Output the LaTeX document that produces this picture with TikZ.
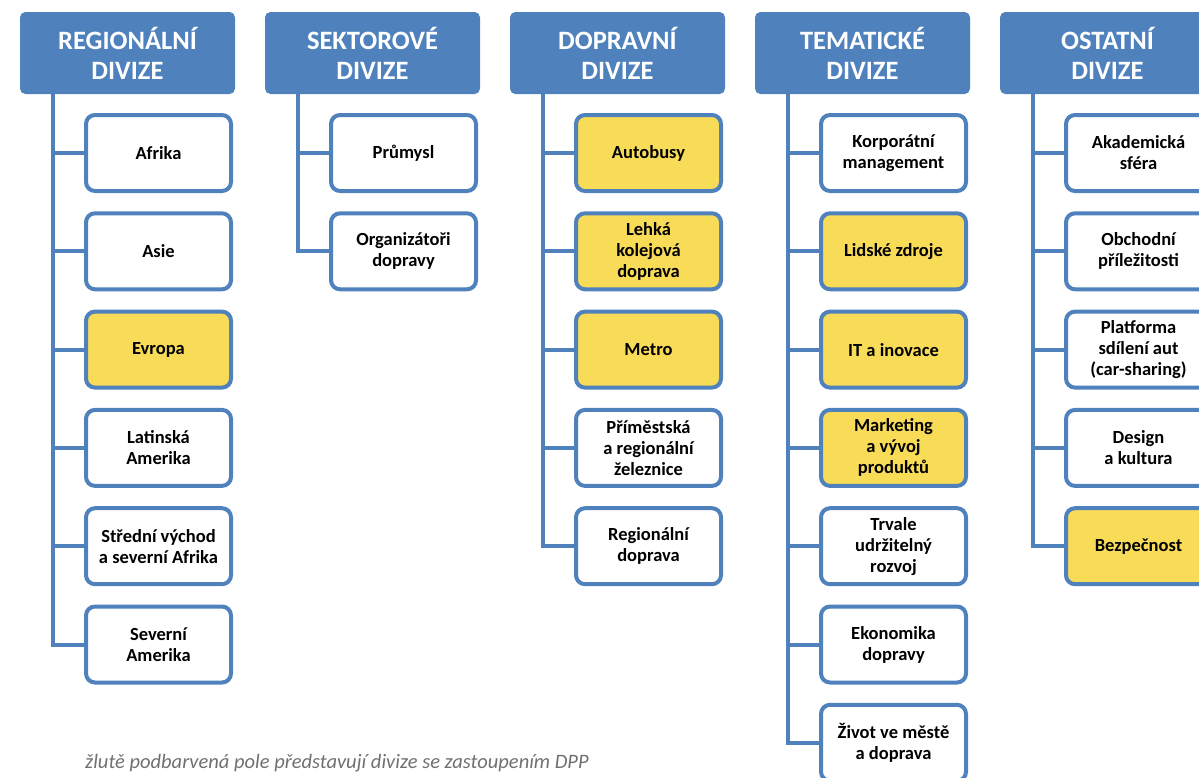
\documentclass[tikz,border=0pt]{standalone}
\usepackage{fontspec}
\setmainfont{Carlito}
\definecolor{hblue}{HTML}{4F81BD}
\definecolor{hyel}{HTML}{F8DC58}
\definecolor{notegray}{HTML}{707070}
\tikzset{
  hdr/.style={rectangle, rounded corners=5pt, fill=hblue, draw=hblue, line width=1pt,
    minimum width=214pt, minimum height=81pt, align=center, text=white,
    font=\bfseries\fontsize{26.5}{30}\selectfont},
  itembox/.style={rectangle, rounded corners=9pt, fill=white, draw=hblue, line width=4pt,
    minimum width=145pt, minimum height=76pt, align=center, text=black,
    font=\bfseries\fontsize{18.5}{21}\selectfont},
  hl/.style={fill=hyel},
  conn/.style={draw=hblue, line width=4pt}
}
\begin{document}
\begin{tikzpicture}[x=1pt,y=-1pt]
\useasboundingbox (0,0) rectangle (1199,777);
\clip (0,0) rectangle (1199,777);
% headers
\node[hdr] (h1) at (127.5,53) {REGIONÁLNÍ\\DIVIZE};
\node[hdr] (h2) at (372.5,53) {SEKTOROVÉ\\DIVIZE};
\node[hdr] (h3) at (617.5,53) {DOPRAVNÍ\\DIVIZE};
\node[hdr] (h4) at (862.5,53) {TEMATICKÉ\\DIVIZE};
\node[hdr] (h5) at (1107.5,53) {OSTATNÍ\\DIVIZE};
% trunk coordinates
\coordinate (t1) at (53,94);
\coordinate (t2) at (298,94);
\coordinate (t3) at (543,94);
\coordinate (t4) at (788,94);
\coordinate (t5) at (1033,94);
% column 1
\node[itembox] (a1) at (158.5,153) {Afrika};
\node[itembox] (a2) at (158.5,251.3) {Asie};
\node[itembox,hl] (a3) at (158.5,349.6) {Evropa};
\node[itembox] (a4) at (158.5,447.9) {Latinská\\Amerika};
\node[itembox] (a5) at (158.5,546.2) {Střední východ\\a severní Afrika};
\node[itembox] (a6) at (158.5,644.5) {Severní\\Amerika};
% column 2
\node[itembox] (b1) at (403.5,153) {Průmysl};
\node[itembox] (b2) at (403.5,251.3) {Organizátoři\\dopravy};
% column 3
\node[itembox,hl] (c1) at (648.5,153) {Autobusy};
\node[itembox,hl] (c2) at (648.5,251.3) {Lehká\\kolejová\\doprava};
\node[itembox,hl] (c3) at (648.5,349.6) {Metro};
\node[itembox] (c4) at (648.5,447.9) {Příměstská\\a regionální\\železnice};
\node[itembox] (c5) at (648.5,546.2) {Regionální\\doprava};
% column 4
\node[itembox] (d1) at (893.5,153) {Korporátní\\management};
\node[itembox,hl] (d2) at (893.5,251.3) {Lidské zdroje};
\node[itembox,hl] (d3) at (893.5,349.6) {IT a inovace};
\node[itembox,hl] (d4) at (893.5,447.9) {Marketing\\a vývoj\\produktů};
\node[itembox] (d5) at (893.5,546.2) {Trvale\\udržitelný\\rozvoj};
\node[itembox] (d6) at (893.5,644.5) {Ekonomika\\dopravy};
\node[itembox] (d7) at (893.5,742.8) {Život ve městě\\a doprava};
% column 5
\node[itembox] (e1) at (1138.5,153) {Akademická\\sféra};
\node[itembox] (e2) at (1138.5,251.3) {Obchodní\\příležitosti};
\node[itembox] (e3) at (1138.5,349.6) {Platforma\\sdílení aut\\(car-sharing)};
\node[itembox] (e4) at (1138.5,447.9) {Design\\a kultura};
\node[itembox,hl] (e5) at (1138.5,546.2) {Bezpečnost};
% trunks
\draw[conn] (t1) |- (a6.west);
\draw[conn] (t2) |- (b2.west);
\draw[conn] (t3) |- (c5.west);
\draw[conn] (t4) |- (d7.west);
\draw[conn] (t5) |- (e5.west);
% branches
\foreach \n in {a1,a2,a3,a4,a5} \draw[conn] (\n.west) -- (\n.west -| t1);
\draw[conn] (b1.west) -- (b1.west -| t2);
\foreach \n in {c1,c2,c3,c4} \draw[conn] (\n.west) -- (\n.west -| t3);
\foreach \n in {d1,d2,d3,d4,d5,d6} \draw[conn] (\n.west) -- (\n.west -| t4);
\foreach \n in {e1,e2,e3,e4} \draw[conn] (\n.west) -- (\n.west -| t5);
% note
\node[anchor=west, text=notegray, font=\itshape\fontsize{20.5}{22}\selectfont, inner sep=0pt] (note) at (85,763) {žlutě podbarvená pole představují divize se zastoupením DPP};
\end{tikzpicture}
\end{document}
